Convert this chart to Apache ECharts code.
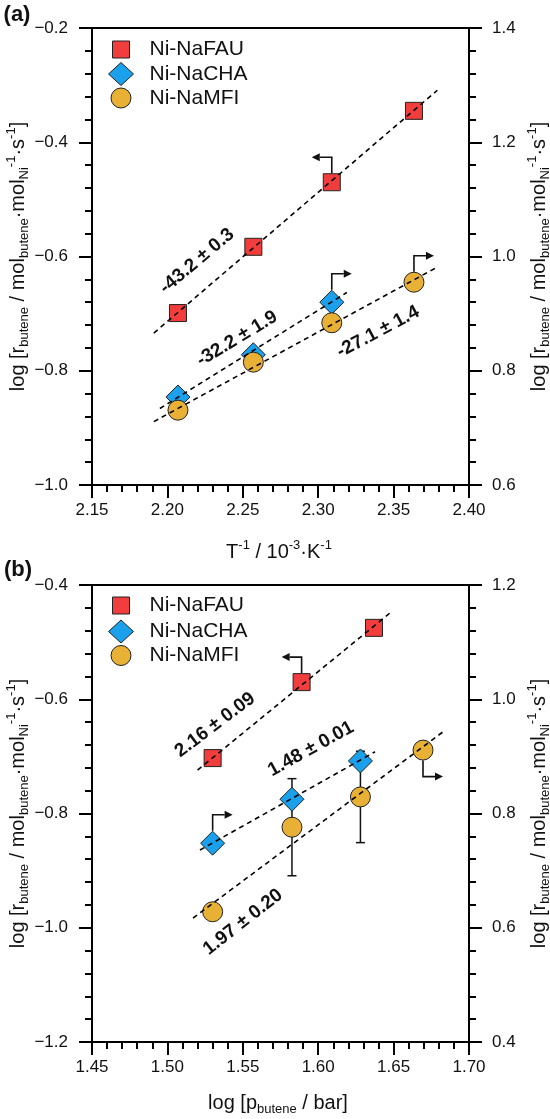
<!DOCTYPE html>
<html><head><meta charset="utf-8">
<script src="https://cdn.jsdelivr.net/npm/echarts@6/dist/echarts.min.js"></script>
<style>html,body{margin:0;padding:0;background:#fff}#c{width:550px;height:1119px}</style>
</head><body><div id="c"></div>
<script>
// ---------- Panel (a) data ----------
const xA_FAU = [2.207, 2.257, 2.309, 2.3635];
const yA_FAU = [-0.699, -0.583, -0.470, -0.345];          // left axis
const xA_CHA = [2.207, 2.257, 2.309];
const yA_CHA = [0.754, 0.828, 0.920];                      // right axis
const xA_MFI = [2.207, 2.257, 2.309, 2.3635];
const yA_MFI = [0.731, 0.815, 0.884, 0.955];               // right axis
const fitA_FAU = [[2.191, -0.734], [2.379, -0.309]];
const fitA_CHA = [[2.195, 0.734], [2.319, 0.937]];
const fitA_MFI = [[2.191, 0.711], [2.378, 0.980]];
const slopeLabelsA = ['-43.2 \u00b1 0.3', '-32.2 \u00b1 1.9', '-27.1 \u00b1 1.4'];
const xRangeA = [2.15, 2.40];
const yLeftRangeA = [-1.0, -0.2];
const yRightRangeA = [0.6, 1.4];

// ---------- Panel (b) data ----------
const xB_FAU = [1.530, 1.589, 1.637];
const yB_FAU = [-0.703, -0.570, -0.475];                   // left axis
const xB_CHA = [1.530, 1.5826, 1.628];
const yB_CHA = [0.748, 0.825, 0.892];                      // right axis
const xB_MFI = [1.530, 1.5826, 1.628, 1.6695];
const yB_MFI = [0.628, 0.776, 0.829, 0.911];               // right axis
const errB_MFI = [0, 0.085, 0.080, 0];
const fitB_FAU = [[1.520, -0.724], [1.6476, -0.449]];
const fitB_CHA = [[1.5216, 0.736], [1.6377, 0.908]];
const fitB_MFI = [[1.517, 0.617], [1.6828, 0.943]];
const slopeLabelsB = ['2.16 \u00b1 0.09', '1.48 \u00b1 0.01', '1.97 \u00b1 0.20'];
const xRangeB = [1.45, 1.70];
const yLeftRangeB = [-1.2, -0.4];
const yRightRangeB = [0.4, 1.2];

const names = ['Ni-NaFAU', 'Ni-NaCHA', 'Ni-NaMFI'];

// ---------- styling / annotation layout ----------
const FONT = '"Liberation Sans", Arial, Helvetica, sans-serif';
const COL = { FAU: '#F23D3D', CHA: '#1BA1EC', MFI: '#E8B034' };
const SYM = { FAU: ['rect', 17], CHA: ['diamond', 24], MFI: ['circle', 20] };
const INK = '#111';

// label anchors (data coords) and rotations (deg): [x, y, axisSide, angle]
const labelLayoutA = [[2.2196, -0.608, 'L', 40], [2.2462, 0.856, 'R', 31], [2.3397, 0.868, 'R', 28]];
const labelLayoutB = [[1.5316, -0.645, 'L', 37], [1.5952, 0.913, 'R', 29], [1.5501, 0.610, 'R', 38]];
// arrows: [seriesKey, pointIndex, vertical dir (-1 up, +1 down), horizontal dir (-1 left, +1 right)]
const arrowsA = [['FAU', 2, -1, -1], ['CHA', 2, -1, 1], ['MFI', 3, -1, 1]];
const arrowsB = [['FAU', 1, -1, -1], ['CHA', 0, -1, 1], ['MFI', 3, 1, 1]];

const zip = (xs, ys) => xs.map((x, i) => [x, ys[i]]);
const minus = v => (v < 0 ? '\u2212' : '') + Math.abs(v).toFixed(1);

function xAxisCfg(grid, r) {
  return {
    type: 'value', gridIndex: grid, min: r[0], max: r[1], interval: 0.05,
    axisLine: { show: true, onZero: false, lineStyle: { color: '#000', width: 2 } },
    axisTick: { show: true, inside: false, length: 13, lineStyle: { color: '#000', width: 2 } },
    minorTick: { show: true, splitNumber: 5, length: 7, lineStyle: { color: '#000', width: 2 } },
    splitLine: { show: false },
    axisLabel: { margin: 17, fontSize: 17, color: INK, fontFamily: FONT, formatter: v => v.toFixed(2) }
  };
}
function yAxisCfg(grid, r, pos) {
  return {
    type: 'value', gridIndex: grid, min: r[0], max: r[1], interval: 0.2, position: pos,
    axisLine: { show: true, onZero: false, lineStyle: { color: '#000', width: 2 } },
    axisTick: { show: true, inside: false, length: 13, lineStyle: { color: '#000', width: 2 } },
    minorTick: { show: true, splitNumber: 5, length: 7, lineStyle: { color: '#000', width: 2 } },
    splitLine: { show: false },
    axisLabel: { margin: pos === 'left' ? 24 : 23, fontSize: 17, color: INK, fontFamily: FONT, formatter: minus }
  };
}

function scatter(key, name, xi, yi, data) {
  return {
    type: 'scatter', name: name, xAxisIndex: xi, yAxisIndex: yi, data: data,
    symbol: SYM[key][0], symbolSize: SYM[key][1], z: 2,
    itemStyle: { color: COL[key], borderColor: '#222', borderWidth: 1, opacity: 1 },
    emphasis: { disabled: true }
  };
}
function fitLine(xi, yi, data) {
  return {
    type: 'line', xAxisIndex: xi, yAxisIndex: yi, data: data, symbol: 'none', z: 3,
    lineStyle: { color: '#000', width: 1.6, type: [5, 4] }, silent: true
  };
}
function errBars(xi, yi, xs, ys, es) {
  const d = xs.map((x, i) => [x, ys[i], es[i]]).filter(p => p[2] > 0);
  return {
    type: 'custom', xAxisIndex: xi, yAxisIndex: yi, data: d, z: 2, silent: true,
    renderItem: (params, api) => {
      const x = api.value(0), y = api.value(1), e = api.value(2);
      const top = api.coord([x, y + e]), bot = api.coord([x, y - e]);
      const cw = 4.5;
      const ls = { stroke: INK, lineWidth: 1.5 };
      return { type: 'group', children: [
        { type: 'line', shape: { x1: top[0], y1: top[1], x2: bot[0], y2: bot[1] }, style: ls },
        { type: 'line', shape: { x1: top[0] - cw, y1: top[1], x2: top[0] + cw, y2: top[1] }, style: ls },
        { type: 'line', shape: { x1: bot[0] - cw, y1: bot[1], x2: bot[0] + cw, y2: bot[1] }, style: ls }
      ]};
    }
  };
}
function arrowSeries(xi, yL, yR, specs, pts) {
  const out = [];
  [['L', yL], ['R', yR]].forEach(([side, yi]) => {
    const sel = specs.filter(s => (s[0] === 'FAU') === (side === 'L'));
    if (!sel.length) return;
    const d = sel.map(s => [pts[s[0]][s[1]][0], pts[s[0]][s[1]][1], s[2], s[3], SYM[s[0]][1]]);
    out.push({
      type: 'custom', xAxisIndex: xi, yAxisIndex: yi, data: d, z: 4, silent: true,
      renderItem: (params, api) => {
        const p = api.coord([api.value(0), api.value(1)]);
        const v = api.value(2), h = api.value(3), half = api.value(4) / 2;
        const y0 = p[1] + v * (half + 0.5), y1 = p[1] + v * (half + 16.5);
        const xEnd = p[0] + h * 20, head = 8, hw = 4;
        return { type: 'group', children: [
          { type: 'polyline', shape: { points: [[p[0], y0], [p[0], y1], [xEnd - h * head, y1]] },
            style: { stroke: INK, lineWidth: 1.6, fill: null } },
          { type: 'polygon', shape: { points: [[xEnd, y1], [xEnd - h * head, y1 - hw], [xEnd - h * head, y1 + hw]] },
            style: { fill: INK, stroke: null } }
        ]};
      }
    });
  });
  return out;
}
function labelSeries(xi, yL, yR, layout, texts) {
  const out = [];
  [['L', yL], ['R', yR]].forEach(([side, yi]) => {
    const idx = layout.map((l, i) => i).filter(i => layout[i][2] === side);
    if (!idx.length) return;
    out.push({
      type: 'custom', xAxisIndex: xi, yAxisIndex: yi, silent: true, z: 5,
      data: idx.map(i => [layout[i][0], layout[i][1], i]),
      renderItem: (params, api) => {
        const i = api.value(2);
        const p = api.coord([api.value(0), api.value(1)]);
        return { type: 'text', x: p[0], y: p[1], rotation: layout[i][3] * Math.PI / 180,
          style: { text: texts[i], fill: INK, font: 'bold 19px ' + FONT, align: 'center', verticalAlign: 'middle' } };
      }
    });
  });
  return out;
}
function legends(rowCenters) {
  const keys = ['FAU', 'CHA', 'MFI'];
  return keys.map((k, i) => {
    const h = k === 'CHA' ? 23 : SYM[k][1];
    const w = k === 'CHA' ? 25 : h;
    const left = 120.5 - w / 2;
    const top = rowCenters[i] - Math.max(h, 21) / 2;
    return {
      data: [names[i]], left: left, top: top, padding: 0, orient: 'vertical',
      itemWidth: w, itemHeight: h, selectedMode: false,
      itemStyle: { borderColor: '#222', borderWidth: 1 },
      textStyle: { fontSize: 21, color: INK, fontFamily: FONT, padding: [0, 0, 0, 149 - (left + w + 5)] }
    };
  });
}

const ptsA = { FAU: zip(xA_FAU, yA_FAU), CHA: zip(xA_CHA, yA_CHA), MFI: zip(xA_MFI, yA_MFI) };
const ptsB = { FAU: zip(xB_FAU, yB_FAU), CHA: zip(xB_CHA, yB_CHA), MFI: zip(xB_MFI, yB_MFI) };

const series = [
  scatter('FAU', names[0], 0, 0, ptsA.FAU),
  scatter('CHA', names[1], 0, 1, ptsA.CHA),
  scatter('MFI', names[2], 0, 1, ptsA.MFI),
  fitLine(0, 0, fitA_FAU), fitLine(0, 1, fitA_CHA), fitLine(0, 1, fitA_MFI),
  ...arrowSeries(0, 0, 1, arrowsA, ptsA),
  ...labelSeries(0, 0, 1, labelLayoutA, slopeLabelsA),
  scatter('FAU', names[0], 1, 2, ptsB.FAU),
  scatter('CHA', names[1], 1, 3, ptsB.CHA),
  errBars(1, 3, xB_MFI, yB_MFI, errB_MFI),
  scatter('MFI', names[2], 1, 3, ptsB.MFI),
  fitLine(1, 2, fitB_FAU), fitLine(1, 3, fitB_CHA), fitLine(1, 3, fitB_MFI),
  ...arrowSeries(1, 2, 3, arrowsB, ptsB),
  ...labelSeries(1, 2, 3, labelLayoutB, slopeLabelsB)
];

const rich = {
  m: { fontSize: 20, fontFamily: FONT, color: INK, lineHeight: 26 },
  sub: { fontSize: 13, fontFamily: FONT, color: INK, lineHeight: 13, verticalAlign: 'bottom' },
  sup: { fontSize: 13, fontFamily: FONT, color: INK, lineHeight: 13, verticalAlign: 'top' }
};
const yTitle = '{m|log [r}{sub|butene}{m| / mol}{sub|butene}{m|\u00b7mol}{sub|Ni}{sup|-1}{m|\u00b7s}{sup|-1}{m|]}';
function titleText(x, y, text, rot) {
  return { type: 'text', x: x, y: y, rotation: rot || 0, silent: true,
    style: { text: text, rich: rich, align: 'center', verticalAlign: 'middle', fill: INK } };
}

const option = {
  animation: false,
  backgroundColor: '#fff',
  grid: [
    { left: 92, top: 28, width: 377, height: 457, show: true, borderColor: '#000', borderWidth: 2, backgroundColor: 'transparent' },
    { left: 92, top: 585, width: 377, height: 457, show: true, borderColor: '#000', borderWidth: 2, backgroundColor: 'transparent' }
  ],
  xAxis: [xAxisCfg(0, xRangeA), xAxisCfg(1, xRangeB)],
  yAxis: [yAxisCfg(0, yLeftRangeA, 'left'), yAxisCfg(0, yRightRangeA, 'right'),
          yAxisCfg(1, yLeftRangeB, 'left'), yAxisCfg(1, yRightRangeB, 'right')],
  legend: [...legends([49.5, 73.5, 98]), ...legends([605.5, 631, 655.5])],
  series: series,
  graphic: [
    { type: 'text', x: 17, y: 15, silent: true, style: { text: '(a)', font: 'bold 22px ' + FONT, fill: INK, align: 'center', verticalAlign: 'middle' } },
    { type: 'text', x: 18, y: 570, silent: true, style: { text: '(b)', font: 'bold 22px ' + FONT, fill: INK, align: 'center', verticalAlign: 'middle' } },
    titleText(18, 256.5, yTitle, Math.PI / 2),
    titleText(539, 256.5, yTitle, Math.PI / 2),
    titleText(18, 813.5, yTitle, Math.PI / 2),
    titleText(539, 813.5, yTitle, Math.PI / 2),
    titleText(279, 552, '{m|T}{sup|-1}{m| / 10}{sup|-3}{m|\u00b7K}{sup|-1}'),
    titleText(278, 1103, '{m|log [p}{sub|butene}{m| / bar]}')
  ]
};

const chart = echarts.init(document.getElementById('c'), null, { renderer: 'canvas' });
chart.setOption(option);
</script>
</body></html>
